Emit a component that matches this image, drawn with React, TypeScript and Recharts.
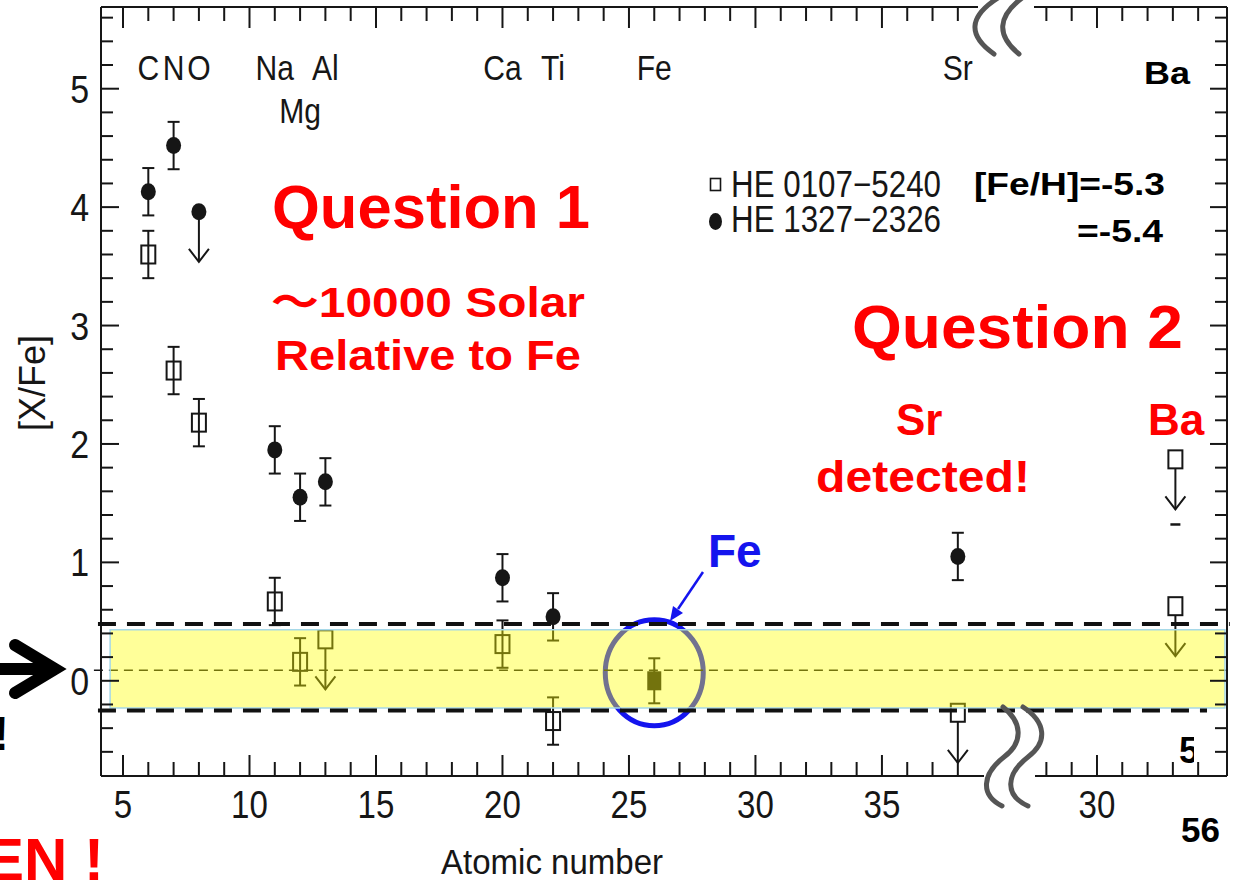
import {
  ScatterChart,
  Scatter,
  XAxis,
  YAxis,
  ErrorBar,
  Legend,
  ReferenceArea,
  ReferenceLine,
  ReferenceDot,
} from 'recharts'

const PLOT_FONT = '"Liberation Sans", Arial, Helvetica, sans-serif'
const SLIDE_FONT = '"Liberation Sans", Arial, "Noto Sans CJK JP", sans-serif'
const INK = '#161616'
const RED = '#ff0000'
const BLUE = '#1414ee'

// element labels along the top of the panel (row 1 = second line, used for Mg)
const elementNames = ['C', 'N', 'O', 'Na', 'Mg', 'Al', 'Ca', 'Ti', 'Fe', 'Sr']
const elementZ = [6, 7, 8, 11, 12, 13, 20, 22, 26, 38]
const elementRow = [0, 0, 0, 0, 1, 0, 0, 0, 0, 0]

// HE 0107-5240, open squares (null error = limit, no bar)
const starA = 'HE 0107\u22125240'
const zA = [6, 7, 8, 11, 12, 13, 20, 22, 38, 56, 56]
const xFeA = [3.6, 2.62, 2.18, 0.67, 0.16, 0.35, 0.31, -0.34, -0.27, 1.87, 0.63]
const errA = [0.2, 0.2, 0.2, 0.2, 0.2, null, 0.2, 0.2, null, null, null]
const upperA = [false, false, false, false, false, true, false, false, true, true, true]

// HE 1327-2326, filled circles
const starB = 'HE 1327\u22122326'
const zB = [6, 7, 8, 11, 12, 13, 20, 22, 38]
const xFeB = [4.13, 4.52, 3.96, 1.95, 1.55, 1.68, 0.87, 0.54, 1.05]
const errB = [0.2, 0.2, null, 0.2, 0.2, 0.2, 0.2, 0.2, 0.2]
const upperB = [false, false, true, false, false, false, false, false, false]

// iron itself, [Fe/Fe] = 0
const zFe = [26]
const xFeFe = [0]
const errFe = [0.19]

// stray cap left under the Ba limits
const baCapZ = 56
const baCapY = 1.32

// solar-ratio band, its dashed limits and the zero line
const band = [-0.23, 0.43]
const bandLimits = [-0.25, 0.48]
const zeroLine = 0.09

// the x axis is broken after Sr; the stub on the right carries Ba
const breakAfter = 40
const breakShift = 9.4
const plotX = (z: number) => (z > breakAfter ? z - breakShift : z)

const xDomain = [4.13, 48.64]
const yDomain = [-0.804, 5.69]
const xMajor = [5, 10, 15, 20, 25, 30, 35, 43.5]
const xMajorLabels = ['5', '10', '15', '20', '25', '30', '35', '30']
const xTicks = [
  ...Array.from({ length: 34 }, (_, i) => 5 + i),
  ...Array.from({ length: 7 }, (_, i) => 41.5 + i),
]
const yTicks = Array.from({ length: 32 }, (_, i) => Math.round((i * 0.2 - 0.6) * 10) / 10)

const labelRowY = [5.175, 4.82]

function BottomTick({ x, y, payload }: any) {
  const k = xMajor.indexOf(payload.value)
  return (
    <g>
      <line x1={x} x2={x} y1={y} y2={y - (k >= 0 ? 21 : 14)} stroke={INK} strokeWidth={2} />
      {k >= 0 && (
        <text
          transform={`translate(${x} ${y + 42}) scale(0.87 1)`}
          textAnchor="middle"
          fontSize={38}
          fontFamily={PLOT_FONT}
          fill={INK}
        >
          {xMajorLabels[k]}
        </text>
      )}
    </g>
  )
}

function TopTick({ x, y, payload }: any) {
  const major = xMajor.includes(payload.value)
  return <line x1={x} x2={x} y1={y} y2={y + (major ? 21 : 14)} stroke={INK} strokeWidth={2} />
}

function LeftTick({ x, y, payload }: any) {
  const major = Number.isInteger(payload.value)
  return (
    <g>
      <line x1={x} x2={x + (major ? 18 : 12)} y1={y} y2={y} stroke={INK} strokeWidth={2} />
      {major && (
        <text
          transform={`translate(${x - 12} ${y + 14}) scale(0.87 1)`}
          textAnchor="end"
          fontSize={39}
          fontFamily={PLOT_FONT}
          fill={INK}
        >
          {payload.value}
        </text>
      )}
    </g>
  )
}

function RightTick({ x, y, payload }: any) {
  const major = Number.isInteger(payload.value)
  return <line x1={x} x2={x - (major ? 17 : 12)} y1={y} y2={y} stroke={INK} strokeWidth={2} />
}

function XTitle({ viewBox }: any) {
  return (
    <text
      x={viewBox.x + 451}
      y={viewBox.y + 98}
      textAnchor="middle"
      fontSize={35}
      textLength={222}
      lengthAdjust="spacingAndGlyphs"
      fontFamily={PLOT_FONT}
      fill={INK}
    >
      Atomic number
    </text>
  )
}

function YTitle({ viewBox }: any) {
  const cy = viewBox.y + viewBox.height / 2 - 8.5
  return (
    <text
      transform={`translate(${viewBox.x - 55} ${cy}) rotate(-90)`}
      textAnchor="middle"
      fontSize={36}
      fontFamily={PLOT_FONT}
      fill={INK}
    >
      [X/Fe]
    </text>
  )
}

// downward arrow for upper limits
function UpperArrow({ cx, cy, from }: { cx: number; cy: number; from: number }) {
  const tip = cy + 50
  return (
    <g stroke={INK} strokeWidth={2} fill="none">
      <line x1={cx} y1={cy + from} x2={cx} y2={tip} />
      <polyline points={`${cx - 10},${tip - 13} ${cx},${tip} ${cx + 10},${tip - 13}`} />
    </g>
  )
}

function OpenSquare({ cx, cy, payload }: any) {
  return (
    <g>
      <rect x={cx - 7} y={cy - 9} width={14} height={18} fill="none" stroke={INK} strokeWidth={2} />
      {payload.upper && <UpperArrow cx={cx} cy={cy} from={9} />}
    </g>
  )
}

function FilledDot({ cx, cy, payload }: any) {
  return (
    <g>
      <ellipse cx={cx} cy={cy} rx={7.5} ry={8.5} fill={INK} />
      {payload.upper && <UpperArrow cx={cx} cy={cy} from={8} />}
    </g>
  )
}

function FilledSquare({ cx, cy }: any) {
  return <rect x={cx - 7} y={cy - 9.5} width={14} height={19} fill={INK} />
}

function CapMark({ cx, cy }: any) {
  return <line x1={cx - 5} x2={cx + 5} y1={cy} y2={cy} stroke={INK} strokeWidth={2.5} />
}

function ElementLabel({ cx, cy, payload }: any) {
  return (
    <text
      transform={`translate(${cx} ${cy + 12.5}) scale(0.86 1)`}
      textAnchor="middle"
      fontSize={35}
      fontFamily={PLOT_FONT}
      fill={INK}
    >
      {payload.name}
    </text>
  )
}

// legend: only the two stars, squares first
function StarLegend({ payload }: any) {
  const order = [starA, starB]
  const items = (payload ?? [])
    .filter((p: any) => order.includes(p.value))
    .sort((a: any, b: any) => order.indexOf(a.value) - order.indexOf(b.value))
  return (
    <svg width={250} height={80}>
      {items.map((p: any, i: number) => (
        <g key={p.value} transform={`translate(0 ${i * 35})`}>
          {p.value === starA ? (
            <rect x={10.5} y={18.5} width={10} height={12} fill="none" stroke={INK} strokeWidth={1.6} />
          ) : (
            <ellipse cx={15.5} cy={26.5} rx={6.5} ry={8.5} fill={INK} />
          )}
          <text
            x={31}
            y={37}
            fontSize={37}
            textLength={210}
            lengthAdjust="spacingAndGlyphs"
            fontFamily={PLOT_FONT}
            fill={INK}
          >
            {p.value}
          </text>
        </g>
      ))}
    </svg>
  )
}

function FeCircle({ cx, cy }: any) {
  return <ellipse cx={cx} cy={cy} rx={49} ry={53} fill="none" stroke={BLUE} strokeWidth={5} />
}

// slide annotations drawn over the chart
function SlideNotes() {
  const bold = { fontFamily: SLIDE_FONT, fontWeight: 700 } as const
  return (
    <svg
      width={1234}
      height={880}
      style={{ position: 'absolute', left: 0, top: 0, pointerEvents: 'none' }}
    >
      <defs>
        <clipPath id="cut5">
          <rect x={1160} y={720} width={34} height={60} />
        </clipPath>
      </defs>

      {/* axis break */}
      <rect x={978} y={2} width={56} height={10} fill="#fff" />
      <rect x={984} y={771} width={51} height={10} fill="#fff" />
      <g stroke="#555" strokeWidth={5} fill="none" strokeLinecap="round">
        <path d="M 998 -2 Q 954 26 994 54" />
        <path d="M 1022 -2 Q 985 26 1019 54" />
        <path d="M 1003 707 C 1022 722, 1024 742, 1004 757 C 982 774, 980 795, 1002 806" />
        <path d="M 1023 707 C 1046 722, 1048 742, 1028 757 C 1006 774, 1004 795, 1028 806" />
      </g>

      <text x={272} y={228} fontSize={62} textLength={318} lengthAdjust="spacingAndGlyphs" fill={RED} {...bold}>
        Question 1
      </text>
      <text x={271} y={317} fontSize={42} textLength={314} lengthAdjust="spacingAndGlyphs" fill={RED} {...bold}>
        ～10000 Solar
      </text>
      <text x={275} y={370} fontSize={42} textLength={306} lengthAdjust="spacingAndGlyphs" fill={RED} {...bold}>
        Relative to Fe
      </text>
      <text x={852} y={348} fontSize={61} textLength={331} lengthAdjust="spacingAndGlyphs" fill={RED} {...bold}>
        Question 2
      </text>
      <text x={896} y={435} fontSize={44} fill={RED} {...bold}>
        Sr
      </text>
      <text x={816} y={492} fontSize={44} textLength={214} lengthAdjust="spacingAndGlyphs" fill={RED} {...bold}>
        detected!
      </text>
      <text x={1148} y={435} fontSize={44} fill={RED} {...bold}>
        Ba
      </text>

      <text x={974} y={195} fontSize={32} textLength={191} lengthAdjust="spacingAndGlyphs" fill="#000" {...bold}>
        [Fe/H]=-5.3
      </text>
      <text x={1077} y={242} fontSize={32} textLength={86} lengthAdjust="spacingAndGlyphs" fill="#000" {...bold}>
        =-5.4
      </text>
      <text x={1144} y={84} fontSize={32} textLength={46} lengthAdjust="spacingAndGlyphs" fill="#000" {...bold}>
        Ba
      </text>
      <text x={1181} y={842} fontSize={35} fill="#000" {...bold}>
        56
      </text>
      <text x={1179} y={763} fontSize={36} fill="#000" clipPath="url(#cut5)" {...bold}>
        5
      </text>

      {/* Fe callout */}
      <text x={708} y={567} fontSize={46} fill={BLUE} {...bold}>
        Fe
      </text>
      <line x1={703} y1={572} x2={678} y2={609} stroke={BLUE} strokeWidth={2.5} />
      <polygon points="670,621 683,613 673,606" fill={BLUE} />

      {/* left margin remnants */}
      <g stroke="#000" strokeWidth={12} fill="none" strokeLinecap="round">
        <line x1={-6} y1={669} x2={48} y2={669} />
        <polyline points="15,645 55,669 15,693" strokeLinejoin="miter" />
      </g>
      <text x={9} y={750} fontSize={48} textAnchor="end" fill="#000" {...bold}>
        !
      </text>
      <text x={104} y={880} fontSize={60} textAnchor="end" fill={RED} {...bold}>
        EN !
      </text>
    </svg>
  )
}

export default function App() {
  const pointsA = zA.map((z, i) => ({ x: plotX(z), y: xFeA[i], err: errA[i], upper: upperA[i] }))
  const pointsB = zB.map((z, i) => ({ x: plotX(z), y: xFeB[i], err: errB[i], upper: upperB[i] }))
  const pointsFe = zFe.map((z, i) => ({ x: z, y: xFeFe[i], err: errFe[i] }))
  const labels = elementNames.map((name, i) => ({
    x: elementZ[i],
    y: labelRowY[elementRow[i]],
    name,
  }))

  return (
    <div
      style={{
        position: 'absolute',
        left: 0,
        top: 0,
        width: 1234,
        height: 880,
        background: '#fff',
        overflow: 'hidden',
      }}
    >
      <ScatterChart width={1234} height={880} margin={{ top: 6, right: 6, bottom: 103, left: 100 }}>
        <XAxis
          type="number"
          dataKey="x"
          domain={xDomain}
          allowDataOverflow
          ticks={xTicks}
          interval={0}
          height={1}
          tickSize={0}
          tickMargin={0}
          tickLine={false}
          tick={BottomTick}
          axisLine={{ stroke: INK, strokeWidth: 2 }}
          label={XTitle}
        />
        <XAxis
          xAxisId="top"
          orientation="top"
          type="number"
          dataKey="x"
          domain={xDomain}
          allowDataOverflow
          ticks={xTicks}
          interval={0}
          height={1}
          tickSize={0}
          tickMargin={0}
          tickLine={false}
          tick={TopTick}
          axisLine={{ stroke: INK, strokeWidth: 2 }}
        />
        <YAxis
          type="number"
          dataKey="y"
          domain={yDomain}
          allowDataOverflow
          ticks={yTicks}
          interval={0}
          width={1}
          tickSize={0}
          tickMargin={0}
          tickLine={false}
          tick={LeftTick}
          axisLine={{ stroke: INK, strokeWidth: 2 }}
          label={YTitle}
        />
        <YAxis
          yAxisId="right"
          orientation="right"
          type="number"
          dataKey="y"
          domain={yDomain}
          allowDataOverflow
          ticks={yTicks}
          interval={0}
          width={1}
          tickSize={0}
          tickMargin={0}
          tickLine={false}
          tick={RightTick}
          axisLine={{ stroke: INK, strokeWidth: 2 }}
        />

        <ReferenceDot x={26} y={0.068} r={50} shape={FeCircle} ifOverflow="visible" zIndex={620} />
        <ReferenceLine
          segment={[{ x: 3.85, y: zeroLine }, { x: 48.75, y: zeroLine }]}
          stroke={INK}
          strokeWidth={1.5}
          strokeDasharray="9 6"
          ifOverflow="visible"
          zIndex={620}
        />
        <ReferenceDot x={plotX(baCapZ)} y={baCapY} r={5} shape={CapMark} zIndex={620} />

        <Scatter name="labels" data={labels} shape={ElementLabel} legendType="none" isAnimationActive={false} />
        <Scatter name={starA} data={pointsA} shape={OpenSquare} isAnimationActive={false}>
          <ErrorBar dataKey="err" direction="y" width={6} strokeWidth={2} stroke={INK} isAnimationActive={false} />
        </Scatter>
        <Scatter name={starB} data={pointsB} shape={FilledDot} isAnimationActive={false}>
          <ErrorBar dataKey="err" direction="y" width={6} strokeWidth={2} stroke={INK} isAnimationActive={false} />
        </Scatter>
        <Scatter name="Fe" data={pointsFe} shape={FilledSquare} legendType="none" isAnimationActive={false}>
          <ErrorBar dataKey="err" direction="y" width={6} strokeWidth={2} stroke={INK} isAnimationActive={false} />
        </Scatter>

        <ReferenceArea
          x1={4.49}
          x2={48.56}
          y1={band[0]}
          y2={band[1]}
          fill="#ffff00"
          fillOpacity={0.4}
          stroke="#a6d8e8"
          strokeWidth={1.5}
          zIndex={700}
        />
        <ReferenceLine
          segment={[{ x: 4.01, y: bandLimits[1] }, { x: 48.75, y: bandLimits[1] }]}
          stroke="#111"
          strokeWidth={4}
          strokeDasharray="18 11"
          ifOverflow="visible"
          zIndex={710}
        />
        <ReferenceLine
          segment={[{ x: 4.01, y: bandLimits[0] }, { x: 47.85, y: bandLimits[0] }]}
          stroke="#111"
          strokeWidth={4}
          strokeDasharray="18 11"
          ifOverflow="visible"
          zIndex={710}
        />

        <Legend
          layout="horizontal"
          verticalAlign="middle"
          align="center"
          width={250}
          height={80}
          wrapperStyle={{ left: 700, top: 160, width: 250, height: 80 }}
          content={StarLegend}
        />
      </ScatterChart>
      <SlideNotes />
    </div>
  )
}
